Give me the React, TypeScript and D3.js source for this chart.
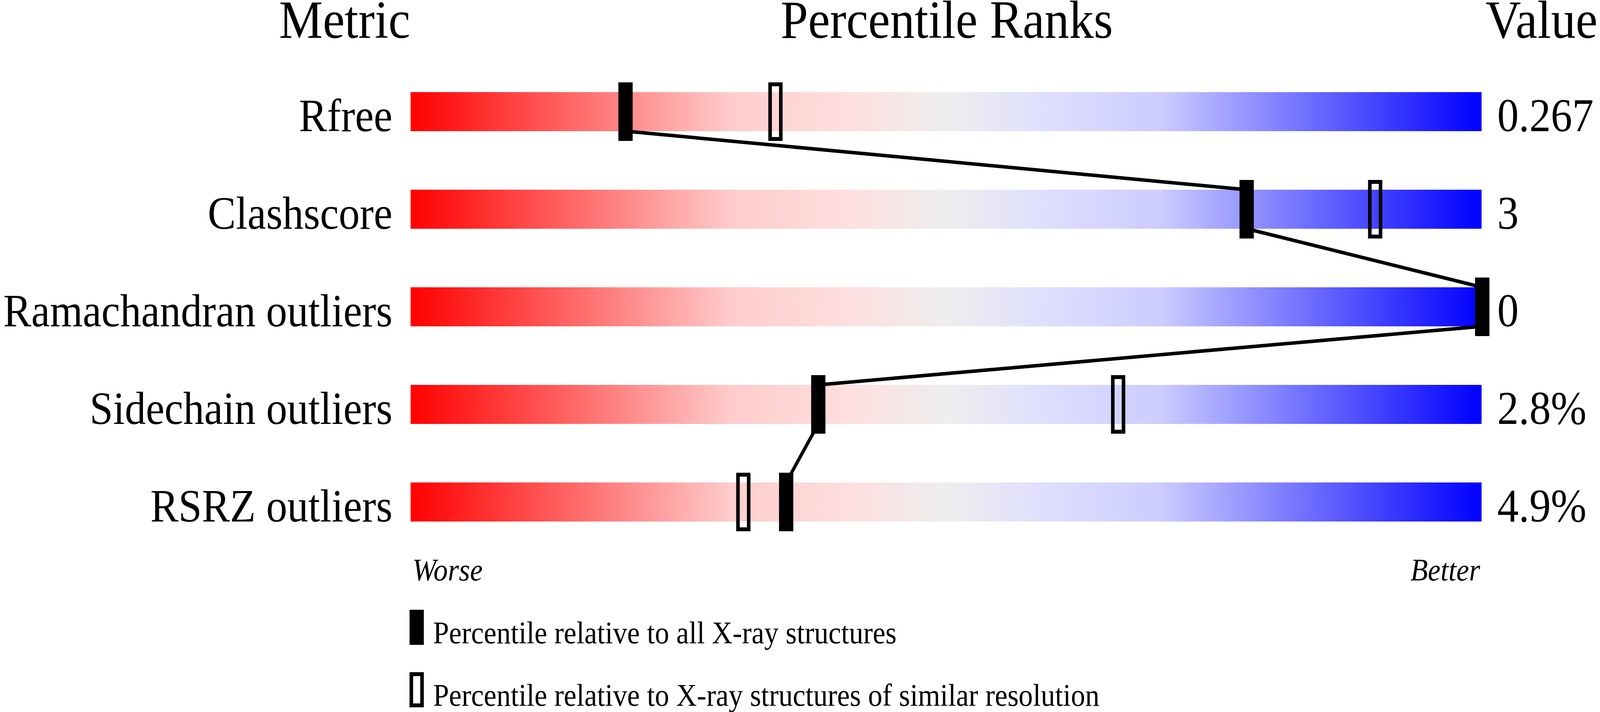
import { useEffect, useRef } from "react";
import * as d3 from "d3";

const W = 4485;
const H = 1824;

const METRICS = ["Rfree", "Clashscore", "Ramachandran outliers", "Sidechain outliers", "RSRZ outliers"];
const VALUES = ["0.267", "3", "0", "2.8%", "4.9%"];
// percentile relative to all X-ray structures (filled marker)
const PCT_ALL = [20, 78, 100, 38, 35];
// percentile relative to structures of similar resolution (open marker)
const PCT_SIMILAR = [34, 90, 100, 66, 31];

const HEADERS = ["Metric", "Percentile Ranks", "Value"];
const LEGEND = [
  "Percentile relative to all X-ray structures",
  "Percentile relative to X-ray structures of similar resolution",
];

// red -> pink -> grey -> lavender -> blue
const GRAD_STOPS: [number, string][] = [
  [0, "#ff0000"],
  [0.3, "#ffcccc"],
  [0.4, "#ffdddd"],
  [0.5, "#eeeeee"],
  [0.6, "#ddddff"],
  [0.7, "#ccccff"],
  [1, "#0000ff"],
];

const FONT = "'Liberation Serif', 'Times New Roman', serif";

export default function App() {
  const svgRef = useRef<SVGSVGElement>(null);

  useEffect(() => {
    document.body.style.margin = "0";
    document.body.style.overflow = "hidden";
    if (!svgRef.current) return;
    const svg = d3.select(svgRef.current);
    svg.selectAll("*").remove();

    const barH = 100;
    const markW = 40;
    const markH = 150;

    const x = d3.scaleLinear().domain([0, 100]).range([1153, 4155]);
    const y = d3.scalePoint<string>().domain(METRICS).range([286, 1286]);

    // gradient
    const grad = svg.append("defs").append("linearGradient")
      .attr("id", "pct-grad").attr("x1", "0%").attr("x2", "100%").attr("y1", "0%").attr("y2", "0%");
    GRAD_STOPS.forEach(([o, c]) => {
      grad.append("stop").attr("offset", o).attr("stop-color", c);
    });

    // headers
    const hdr = svg.append("g").attr("font-family", FONT).attr("font-size", 138).attr("fill", "#000");
    hdr.append("text").attr("x", 1150).attr("y", 97).attr("text-anchor", "end").text(HEADERS[0]);
    hdr.append("text").attr("x", (x(0) + x(100)) / 2).attr("y", 97).attr("text-anchor", "middle").text(HEADERS[1]);
    hdr.append("text").attr("x", 4478).attr("y", 97).attr("text-anchor", "end").text(HEADERS[2]);

    // bars
    svg.append("g").selectAll("rect")
      .data(METRICS)
      .join("rect")
      .attr("x", x(0) - 2)
      .attr("y", d => y(d)! - barH / 2)
      .attr("width", x(100) - x(0))
      .attr("height", barH)
      .attr("fill", "url(#pct-grad)");

    // metric labels + values
    const lbl = svg.append("g").attr("font-family", FONT).attr("font-size", 118).attr("fill", "#000");
    lbl.selectAll("text.metric")
      .data(METRICS)
      .join("text")
      .attr("class", "metric")
      .attr("x", 1100)
      .attr("y", d => y(d)! + barH / 2)
      .attr("text-anchor", "end")
      .text(d => d);
    lbl.selectAll("text.value")
      .data(VALUES)
      .join("text")
      .attr("class", "value")
      .attr("x", 4197)
      .attr("y", (_, i) => y(METRICS[i])! + barH / 2)
      .attr("font-size", 120)
      .text(d => d);

    // connecting line through the filled markers
    const pts: [number, number][] = [];
    METRICS.forEach((m, i) => {
      const cx = x(PCT_ALL[i]);
      if (i > 0) pts.push([cx, y(m)! - barH / 2]);
      if (i < METRICS.length - 1) pts.push([cx, y(m)! + barH / 2]);
    });
    svg.append("path")
      .attr("d", d3.line()(pts) ?? "")
      .attr("fill", "none")
      .attr("stroke", "#000")
      .attr("stroke-width", 9)
      .attr("stroke-linejoin", "round");

    // open markers
    svg.append("g").selectAll("rect")
      .data(PCT_SIMILAR)
      .join("rect")
      .attr("x", d => x(d) - markW / 2 + 5)
      .attr("y", (_, i) => y(METRICS[i])! - markH / 2 + 5)
      .attr("width", markW - 10)
      .attr("height", markH - 10)
      .attr("fill", "none")
      .attr("stroke", "#000")
      .attr("stroke-width", 10);

    // filled markers
    svg.append("g").selectAll("rect")
      .data(PCT_ALL)
      .join("rect")
      .attr("x", d => x(d) - markW / 2)
      .attr("y", (_, i) => y(METRICS[i])! - markH / 2)
      .attr("width", markW)
      .attr("height", markH)
      .attr("fill", "#000");

    // worse / better
    const ends = svg.append("g").attr("font-family", FONT).attr("font-size", 80)
      .attr("font-style", "italic").attr("fill", "#000");
    ends.append("text").attr("x", x(0) + 3).attr("y", 1487).text("Worse");
    ends.append("text").attr("x", x(100) - 6).attr("y", 1487).attr("text-anchor", "end").text("Better");

    // legend
    const leg = svg.append("g").attr("font-family", FONT).attr("font-size", 80).attr("fill", "#000");
    const legY = [1562, 1722];
    leg.append("rect").attr("x", 1148).attr("y", legY[0]).attr("width", 40).attr("height", 90).attr("fill", "#000");
    leg.append("rect").attr("x", 1153).attr("y", legY[1] + 5).attr("width", 30).attr("height", 80)
      .attr("fill", "none").attr("stroke", "#000").attr("stroke-width", 10);
    LEGEND.forEach((t, i) => {
      leg.append("text").attr("x", 1214).attr("y", legY[i] + 86).text(t);
    });
  }, []);

  return (
    <svg
      ref={svgRef}
      viewBox={`0 0 ${W} ${H}`}
      preserveAspectRatio="none"
      style={{ position: "absolute", left: 0, top: 0, width: "100vw", height: "100vh", display: "block", background: "#fff" }}
    />
  );
}
